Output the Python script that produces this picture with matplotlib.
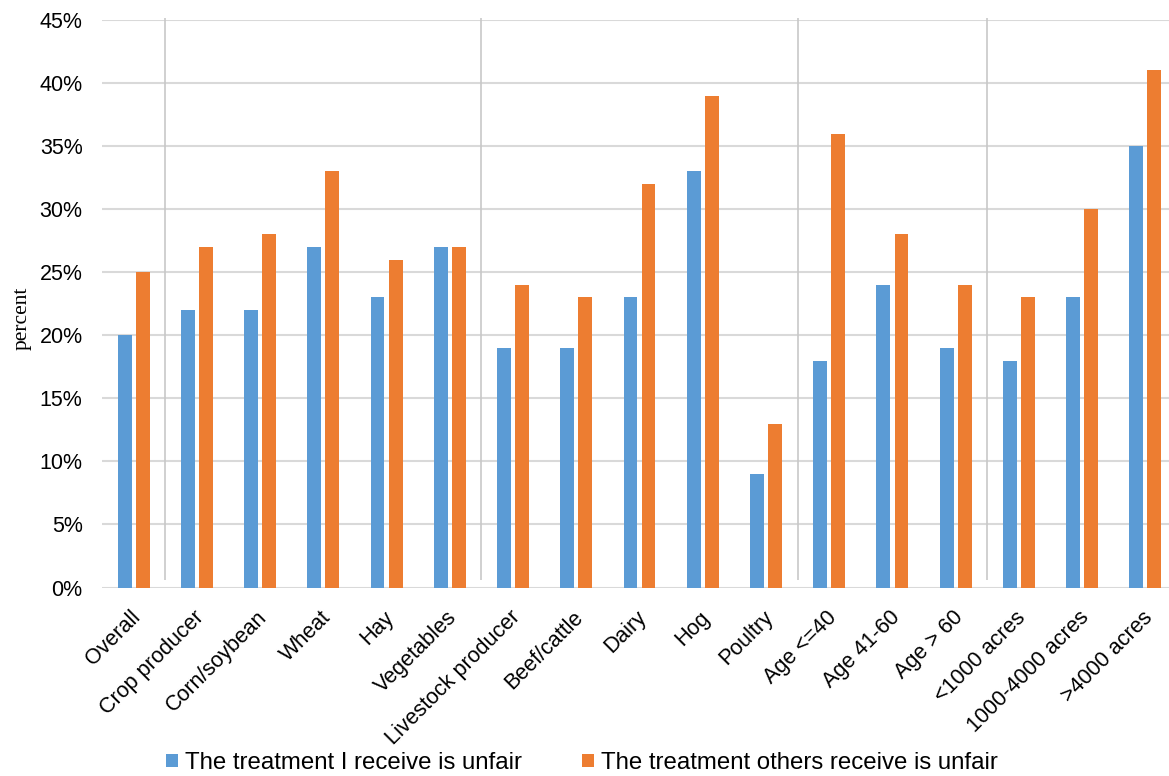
import numpy as np
import matplotlib.pyplot as plt
import matplotlib.transforms as mtransforms

categories = ["Overall", "Crop producer", "Corn/soybean", "Wheat", "Hay", "Vegetables",
              "Livestock producer", "Beef/cattle", "Dairy", "Hog", "Poultry",
              "Age <=40", "Age 41-60", "Age > 60", "<1000 acres", "1000-4000 acres",
              ">4000 acres"]
self_unfair = [20, 22, 22, 27, 23, 27, 19, 19, 23, 33, 9, 18, 24, 19, 18, 23, 35]
others_unfair = [25, 27, 28, 33, 26, 27, 24, 23, 32, 39, 13, 36, 28, 24, 23, 30, 41]
series_names = ["The treatment I receive is unfair", "The treatment others receive is unfair"]
group_breaks = [0.5, 5.5, 10.5, 13.5]  # between overall / crops / livestock / age / acreage

plt.rcParams['font.family'] = ['Liberation Sans', 'DejaVu Sans']

fig = plt.figure(figsize=(11.69, 7.76), dpi=100)
ax = fig.add_axes([102 / 1169, 188.5 / 776, 1075 / 1169, 567.5 / 776])

x = np.arange(len(categories))
w = 0.22
off = 0.143
ax.bar(x - off, np.array(self_unfair) / 100, w, color='#5B9BD5', label=series_names[0], zorder=3)
ax.bar(x + off, np.array(others_unfair) / 100, w, color='#ED7D31', label=series_names[1], zorder=3)

ax.set_xlim(-0.5, len(categories) - 0.5)
ax.set_ylim(0, 0.45)
ax.set_yticks(np.arange(0, 0.451, 0.05))
ax.set_yticklabels([f"{int(round(v * 100))}%" for v in np.arange(0, 0.451, 0.05)], fontsize=15.5)
ax.grid(axis='y', color='#d9d9d9', linewidth=1.5, zorder=0)
ax.set_axisbelow(True)
for s in ax.spines.values():
    s.set_visible(False)
ax.tick_params(axis='both', length=0)
ax.tick_params(axis='y', pad=14)

# separators between category groups
ax.vlines(group_breaks, 0.006, 0.4515, color='#c8c8c8', linewidth=1.2, clip_on=False, zorder=1)

ax.set_xticks(x)
ax.set_xticklabels(categories, fontsize=15.5, rotation=45, ha='right', va='center',
                   rotation_mode='anchor')
shift = mtransforms.ScaledTranslation(4 / 100, -22 / 100, fig.dpi_scale_trans)
for lbl in ax.get_xticklabels():
    lbl.set_transform(lbl.get_transform() + shift)

ax.set_ylabel("percent", family=['Liberation Serif', 'DejaVu Serif'], fontsize=15.5)
ax.yaxis.set_label_coords(-70 / 1075, 0.475)

fig.legend(loc='center', bbox_to_anchor=(582 / 1169, 1 - 763 / 776), ncol=2, frameon=False,
           fontsize=17.3, handlelength=0.5, handleheight=0.5, handletextpad=0.3,
           columnspacing=2.5)

fig.savefig("out.png", dpi=100)
